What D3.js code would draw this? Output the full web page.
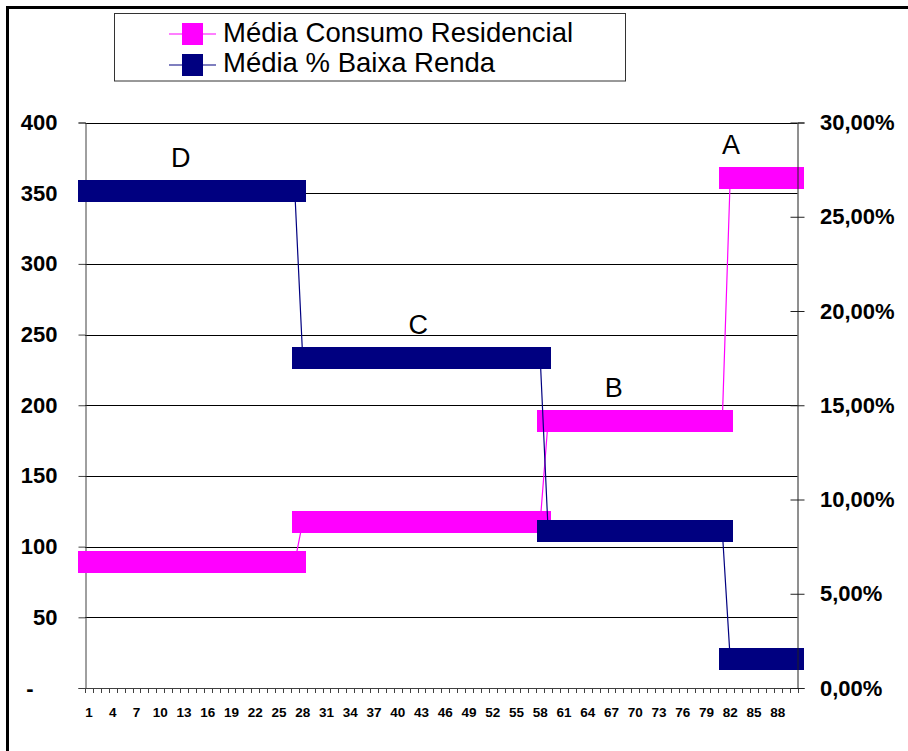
<!DOCTYPE html>
<html>
<head>
<meta charset="utf-8">
<script src="https://cdn.jsdelivr.net/npm/d3@7/dist/d3.min.js"></script>
<style>
  html, body { margin: 0; padding: 0; background: #fff; }
  svg { display: block; }
  text { font-family: "Liberation Sans", Arial, sans-serif; }
</style>
</head>
<body>
<svg id="chart" width="908" height="751"></svg>
<script>
// ---- data ----------------------------------------------------------------
// Municipality groups (ranked 1..90), with each group's averages.
const groups        = ["D", "C", "B", "A"];
const groupFirst    = [1, 28, 59, 82];
const groupLast     = [27, 58, 81, 90];
const consumoMedio  = [89, 117.5, 189, 360.5];        // kWh, left axis
const baixaRendaPct = [0.2638, 0.1752, 0.0834, 0.0153]; // share, right axis

const leftTicks  = [0, 50, 100, 150, 200, 250, 300, 350, 400];
const rightTicks = [0, 0.05, 0.10, 0.15, 0.20, 0.25, 0.30];
const xTickLabels = [1, 4, 7, 10, 13, 16, 19, 22, 25, 28, 31, 34, 37, 40, 43, 46,
                     49, 52, 55, 58, 61, 64, 67, 70, 73, 76, 79, 82, 85, 88];

const seriesNames = ["Média Consumo Residencial", "Média % Baixa Renda"];

// ---- layout ----------------------------------------------------------------
const plot = { left: 85, right: 797.5, top: 122.5, bottom: 688 };
const markerSize = 21.7;
const colors = { consumo: "#FF00FF", renda: "#000080" };
// horizontal placement of the group letters (in category units)
const groupLabelAt = { D: 12.6, C: 42.6, B: 67.3, A: 82.1 };

// one point per municipality, carrying its group's averages
const categories = [];
const consumoPts = [];
const rendaPts = [];
groups.forEach((g, gi) => {
  for (let c = groupFirst[gi]; c <= groupLast[gi]; c++) {
    categories.push(c);
    consumoPts.push({ c, v: consumoMedio[gi] });
    rendaPts.push({ c, v: baixaRendaPct[gi] });
  }
});

const svg = d3.select("#chart");

const x = d3.scaleBand().domain(categories).range([plot.left, plot.right]).paddingInner(0).paddingOuter(0);
const cx = c => x(c) + x.bandwidth() / 2;
const yL = d3.scaleLinear().domain([0, 400]).range([plot.bottom, plot.top]);
const yR = d3.scaleLinear().domain([0, 0.30]).range([plot.bottom, plot.top]);

const ptBR = d3.formatLocale({ decimal: ",", thousands: ".", grouping: [3], currency: ["R$", ""] });
const pct = ptBR.format(".2%");

svg.append("rect").attr("width", 908).attr("height", 751).attr("fill", "#fff");

// gridlines
svg.append("g")
  .selectAll("line")
  .data(leftTicks.filter(d => d > 0))
  .join("line")
  .attr("x1", plot.left).attr("x2", plot.right)
  .attr("y1", d => Math.round(yL(d)) + 0.5).attr("y2", d => Math.round(yL(d)) + 0.5)
  .attr("stroke", "#000").attr("stroke-width", 1);

// left axis
const gLeft = svg.append("g")
  .attr("transform", `translate(${plot.left + 0.5},0)`)
  .call(d3.axisLeft(yL).tickValues(leftTicks).tickSize(7).tickPadding(21)
        .tickFormat(d => d === 0 ? "-" : d));
gLeft.select(".domain").attr("stroke", "#404040");
gLeft.selectAll(".tick line").attr("stroke", "#404040");
gLeft.selectAll(".tick text")
  .attr("font-family", "Liberation Sans, Arial, sans-serif")
  .attr("font-size", 22).attr("font-weight", "bold").attr("fill", "#000")
  .attr("dx", d => d === 0 ? -24 : 0);

// category axis
const gX = svg.append("g");
gX.append("line")
  .attr("x1", plot.left).attr("x2", plot.right)
  .attr("y1", plot.bottom + 0.5).attr("y2", plot.bottom + 0.5)
  .attr("stroke", "#404040");
const boundaries = categories.map(c => x(c)).concat([plot.right]);
gX.selectAll("line.tk")
  .data(boundaries)
  .join("line").attr("class", "tk")
  .attr("x1", d => Math.round(d) + 0.5).attr("x2", d => Math.round(d) + 0.5)
  .attr("y1", plot.bottom).attr("y2", plot.bottom + 5)
  .attr("stroke", "#404040");
gX.selectAll("text")
  .data(xTickLabels)
  .join("text")
  .attr("x", d => cx(d)).attr("y", 716.7)
  .attr("text-anchor", "middle")
  .attr("font-size", 13.5).attr("font-weight", "bold")
  .text(d => d);

// series: line underneath, square markers on top
function drawSeries(points, yScale, color) {
  const g = svg.append("g");
  g.append("path")
    .datum(points)
    .attr("fill", "none")
    .attr("stroke", color)
    .attr("stroke-width", 1.2)
    .attr("d", d3.line().x(d => cx(d.c)).y(d => yScale(d.v)));
  g.selectAll("rect")
    .data(points)
    .join("rect")
    .attr("x", d => cx(d.c) - markerSize / 2)
    .attr("y", d => yScale(d.v) - markerSize / 2)
    .attr("width", markerSize).attr("height", markerSize)
    .attr("fill", color)
    .attr("shape-rendering", "crispEdges");
}
drawSeries(consumoPts, yL, colors.consumo);
drawSeries(rendaPts, yR, colors.renda);

// group letters above each group
svg.append("g")
  .selectAll("text")
  .data(groups)
  .join("text")
  .attr("x", (g, i) => x(categories[0]) + (groupLabelAt[g] - 0.5) * x.bandwidth())
  .attr("y", (g, i) => Math.min(yL(consumoMedio[i]), yR(baixaRendaPct[i])) - markerSize / 2 - 13)
  .attr("text-anchor", "middle")
  .attr("font-size", 27)
  .attr("fill", "#000")
  .text(g => g);

// right (secondary) axis, drawn over the markers
const gRight = svg.append("g")
  .attr("transform", `translate(${plot.right},0)`)
  .call(d3.axisRight(yR).tickValues(rightTicks).tickSize(7).tickFormat(pct));
gRight.select(".domain").attr("stroke", "#202020");
gRight.selectAll(".tick line").attr("x1", -7).attr("x2", 7).attr("stroke", "#202020");
gRight.selectAll(".tick text")
  .attr("x", 22.5)
  .attr("font-family", "Liberation Sans, Arial, sans-serif")
  .attr("font-size", 22).attr("font-weight", "bold").attr("fill", "#000");

// legend
const legend = svg.append("g");
legend.append("rect")
  .attr("x", 114.5).attr("y", 13.5).attr("width", 511).attr("height", 67.5)
  .attr("fill", "#fff").attr("stroke", "#333").attr("stroke-width", 1);
const legendRows = [
  { name: seriesNames[0], color: colors.consumo, y: 34, base: 41.5 },
  { name: seriesNames[1], color: colors.renda, y: 65, base: 72 }
];
legendRows.forEach(r => {
  legend.append("line")
    .attr("x1", 169).attr("x2", 216).attr("y1", r.y).attr("y2", r.y)
    .attr("stroke", r.color).attr("stroke-width", 1.2);
  legend.append("rect")
    .attr("x", 192.5 - markerSize / 2).attr("y", r.y - markerSize / 2)
    .attr("width", markerSize).attr("height", markerSize)
    .attr("fill", r.color)
    .attr("shape-rendering", "crispEdges");
  legend.append("text")
    .attr("x", 223).attr("y", r.base)
    .attr("font-size", 27.5).attr("fill", "#000")
    .text(r.name);
});

// chart frame
svg.append("rect")
  .attr("x", 7.5).attr("y", 7.5).attr("width", 920).attr("height", 770)
  .attr("fill", "none").attr("stroke", "#000").attr("stroke-width", 3);
</script>
</body>
</html>
